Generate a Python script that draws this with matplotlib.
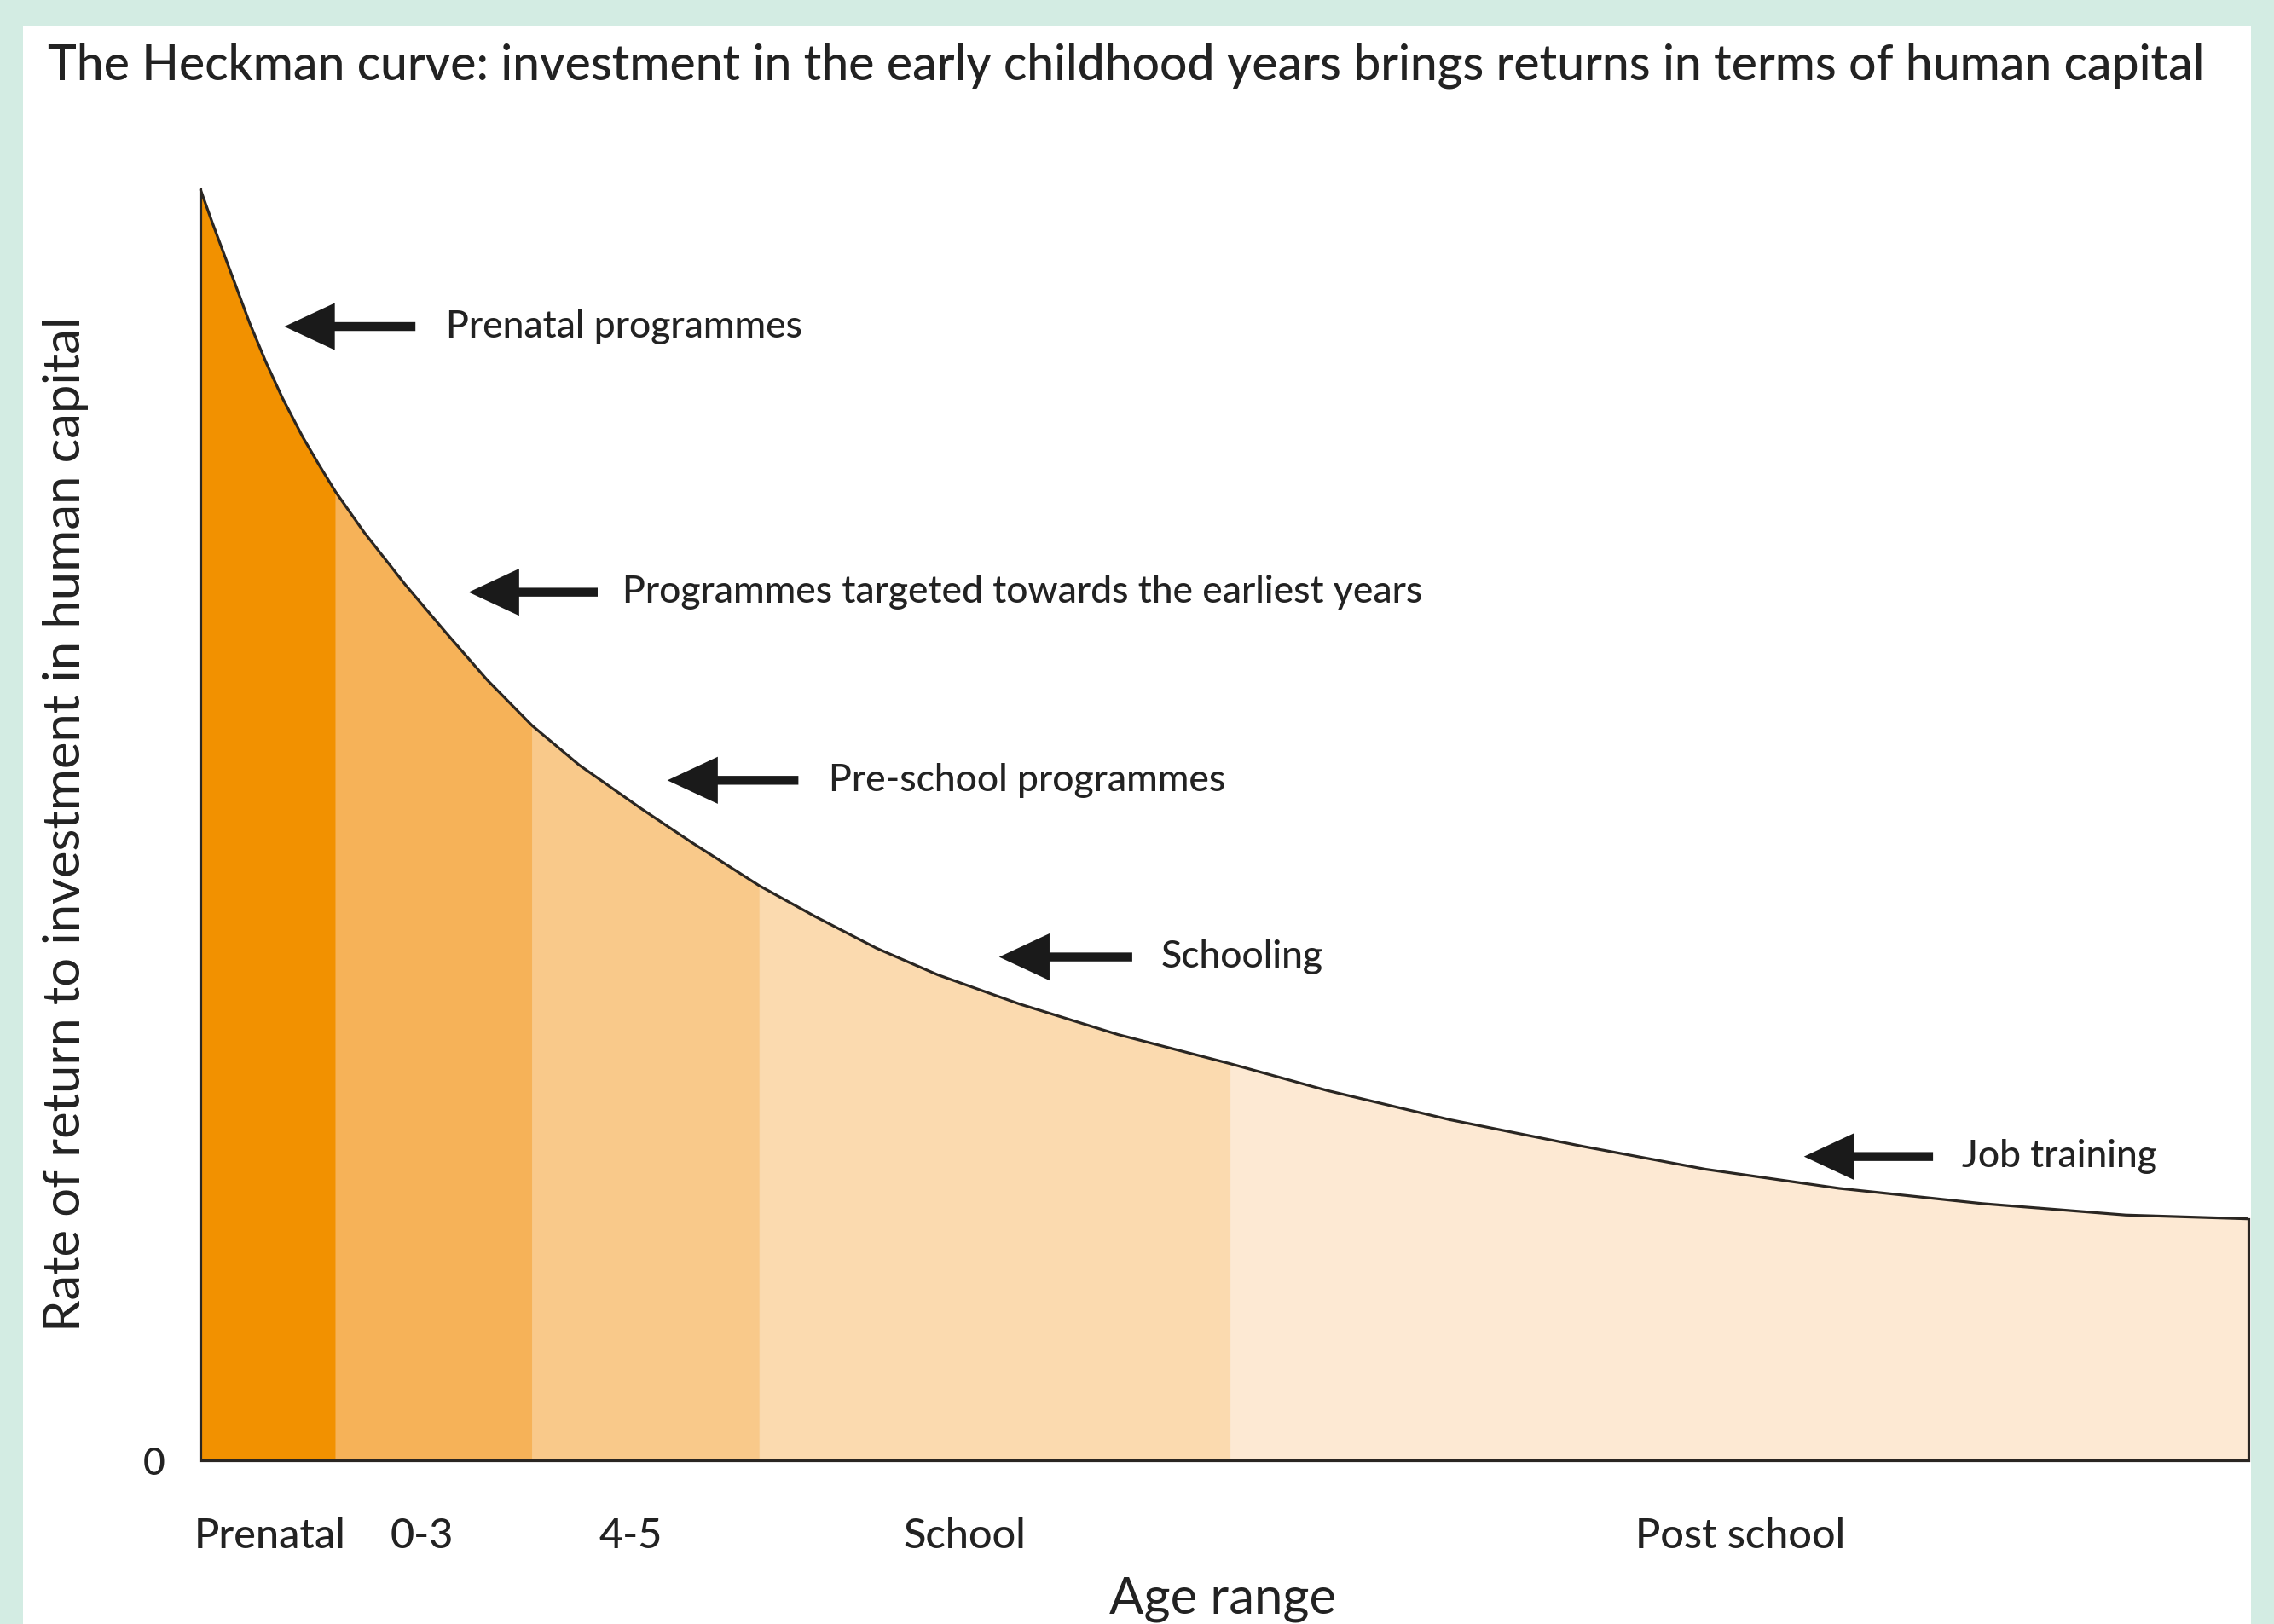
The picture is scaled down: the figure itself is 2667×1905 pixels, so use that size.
import matplotlib
matplotlib.use("Agg")
import matplotlib.pyplot as plt
import numpy as np
from matplotlib.patches import Rectangle

# curve (x: position along the age axis 0-100, y: rate of return 0-100)
curve_x = [0, 0.6, 1.2, 1.8, 2.4, 3.2, 4.0, 5.0, 5.8, 6.6, 8.0, 10.0, 12.0, 14.0, 16.2,
           18.5, 21.5, 24.0, 27.3, 30.0, 33.0, 36.0, 40.0, 44.8, 50.3, 55.0, 61.0,
           67.5, 73.5, 80.0, 87.0, 94.0, 100]
curve_y = [100, 97.3, 94.7, 92.1, 89.5, 86.4, 83.6, 80.5, 78.3, 76.2, 73.0, 68.9, 65.1, 61.4, 57.8,
           54.7, 51.3, 48.6, 45.2, 42.8, 40.3, 38.2, 35.9, 33.5, 31.2, 29.1, 26.8,
           24.7, 22.9, 21.4, 20.2, 19.3, 19.0]

band_edges = [0, 6.6, 16.2, 27.3, 50.3, 100]
band_colors = ["#F29100", "#F6B258", "#F9C98A", "#FBDAAF", "#FDE9D3"]

age_labels = ["Prenatal", "0-3", "4-5", "School", "Post school"]
age_label_pos = [3.4, 10.8, 21.0, 37.3, 75.2]

notes = ["Prenatal programmes",
         "Programmes targeted towards the earliest years",
         "Pre-school programmes",
         "Schooling",
         "Job training"]
note_tip_x = [4.1, 13.1, 22.8, 39.0, 78.3]
note_tail_x = [10.5, 19.4, 29.2, 45.5, 84.6]
note_text_x = [12.0, 20.6, 30.7, 46.9, 86.0]
note_y = [89.2, 68.3, 53.5, 39.6, 23.9]

FONT = ["Lato", "DejaVu Sans"]
INK = "#222222"
plt.rcParams["font.family"] = FONT
plt.rcParams["font.weight"] = 500

fig = plt.figure(figsize=(26.67, 19.05), dpi=100)
fig.patch.set_facecolor("#D3ECE3")
fig.add_artist(Rectangle((27 / 2667, 0), (2640 - 27) / 2667, 1 - 31 / 1905,
                         transform=fig.transFigure, facecolor="white",
                         edgecolor="none", zorder=0))

ax = fig.add_axes([235 / 2667, 192 / 1905, 2402 / 2667, 1491 / 1905])
ax.set_facecolor("none")
ax.set_xlim(0, 100)
ax.set_ylim(0, 100)
for spine in ax.spines.values():
    spine.set_visible(False)

x = np.array(curve_x)
y = np.array(curve_y)
for (a, b), color in zip(zip(band_edges[:-1], band_edges[1:]), band_colors):
    sel = (x >= a) & (x <= b)
    ax.fill_between(x[sel], 0, y[sel], facecolor=color, edgecolor=color,
                    linewidth=0.8, zorder=1)

outline = "#2A2622"
ax.plot(curve_x, curve_y, color=outline, lw=2.3, zorder=3, clip_on=False,
        solid_capstyle="butt", solid_joinstyle="round")
ax.plot([curve_x[-1], curve_x[-1], curve_x[0], curve_x[0]],
        [curve_y[-1], 0, 0, curve_y[0]], color=outline, lw=2.3, zorder=3,
        clip_on=False, solid_joinstyle="miter")

for text, tip, tail, tx, ty in zip(notes, note_tip_x, note_tail_x, note_text_x, note_y):
    ax.annotate("", xy=(tip, ty), xytext=(tail, ty),
                arrowprops=dict(arrowstyle="-|>,head_length=1.5,head_width=0.7",
                                mutation_scale=20, lw=7.5, color="#1A1A1A",
                                shrinkA=0, shrinkB=0, joinstyle="miter",
                                capstyle="butt"))
    ax.text(tx, ty, text, ha="left", va="center", fontsize=32, color=INK)

ax.set_xticks(age_label_pos, age_labels)
ax.set_yticks([0], ["0"])
ax.tick_params(axis="both", length=0, colors=INK)
ax.tick_params(axis="x", pad=48, labelsize=35)
ax.tick_params(axis="y", pad=30, labelsize=32)

ax.set_xlabel("Age range", fontsize=43, color=INK)
ax.xaxis.set_label_coords(0.499, -0.1093)
ax.xaxis.label.set_va("center")
ax.set_ylabel("Rate of return to investment in human capital", fontsize=43, color=INK)
ax.yaxis.set_label_coords(-0.0658, 0.501)
ax.yaxis.label.set_va("center")

fig.text(56 / 2667, 1 - 77 / 1905,
         "The Heckman curve: investment in the early childhood years brings returns in terms of human capital",
         ha="left", va="center", fontsize=41, color=INK)

fig.savefig("out.png", dpi=100, facecolor=fig.get_facecolor())
